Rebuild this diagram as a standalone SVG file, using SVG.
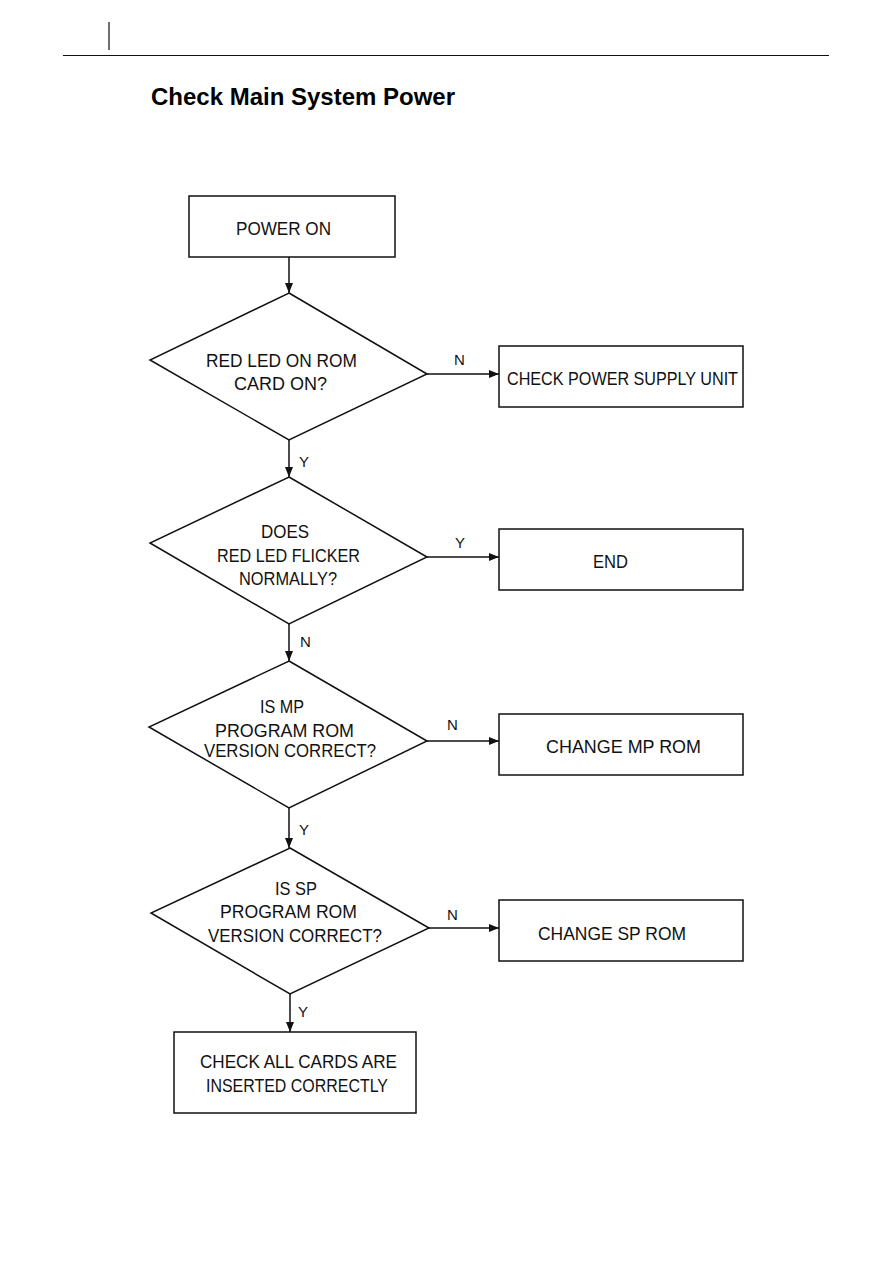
<svg xmlns="http://www.w3.org/2000/svg" width="893" height="1263" viewBox="0 0 893 1263">
<defs>
<style>
.shape{fill:#fff;stroke:#111;stroke-width:1.5}
.conn{fill:none;stroke:#111;stroke-width:1.5}
.t{font-family:"Liberation Sans",Arial,sans-serif;font-size:19px;fill:#111}
.lbl{font-family:"Liberation Sans",Arial,sans-serif;font-size:15px;fill:#111}
.title{font-family:"Liberation Sans",Arial,sans-serif;font-size:23px;font-weight:bold;fill:#000}
</style>
<marker id="ah" viewBox="0 0 10 8" refX="10" refY="4" markerWidth="10" markerHeight="8" markerUnits="userSpaceOnUse" orient="auto">
<path d="M0,0 L10,4 L0,8 Z" fill="#111"/>
</marker>
</defs>
<rect width="893" height="1263" fill="#fff"/>
<g id="header">
<line x1="109" y1="22" x2="109" y2="50" stroke="#111" stroke-width="1.2"/>
<line x1="63" y1="55.5" x2="829" y2="55.5" stroke="#111" stroke-width="1.2"/>
<text class="title" x="151" y="105" textLength="304" lengthAdjust="spacingAndGlyphs">Check Main System Power</text>
</g>
<g id="connectors">
<line class="conn" x1="289" y1="257" x2="289" y2="293" marker-end="url(#ah)"/>
<line class="conn" x1="427" y1="374" x2="499" y2="374" marker-end="url(#ah)"/>
<line class="conn" x1="289" y1="440" x2="289" y2="477" marker-end="url(#ah)"/>
<line class="conn" x1="427" y1="557" x2="499" y2="557" marker-end="url(#ah)"/>
<line class="conn" x1="289" y1="624" x2="289" y2="661" marker-end="url(#ah)"/>
<line class="conn" x1="427" y1="741" x2="499" y2="741" marker-end="url(#ah)"/>
<line class="conn" x1="289" y1="808" x2="289" y2="848" marker-end="url(#ah)"/>
<line class="conn" x1="429" y1="928" x2="499" y2="928" marker-end="url(#ah)"/>
<line class="conn" x1="290" y1="994" x2="290" y2="1032" marker-end="url(#ah)"/>
<text class="lbl" x="454" y="365">N</text>
<text class="lbl" x="299" y="467">Y</text>
<text class="lbl" x="455" y="548">Y</text>
<text class="lbl" x="300" y="647">N</text>
<text class="lbl" x="447" y="730">N</text>
<text class="lbl" x="299" y="835">Y</text>
<text class="lbl" x="447" y="920">N</text>
<text class="lbl" x="298" y="1017">Y</text>
</g>
<g id="power-on">
<rect class="shape" x="189" y="196" width="206" height="61"/>
<text class="t" x="236" y="235" textLength="95" lengthAdjust="spacingAndGlyphs">POWER ON</text>
</g>
<g id="red-led-on">
<polygon class="shape" points="289,293 427,374 289,440 150,360"/>
<text class="t" x="206" y="367" textLength="151" lengthAdjust="spacingAndGlyphs">RED LED ON ROM</text>
<text class="t" x="234" y="390" textLength="93" lengthAdjust="spacingAndGlyphs">CARD ON?</text>
</g>
<g id="check-psu">
<rect class="shape" x="499" y="346" width="244" height="61"/>
<text class="t" x="507" y="385" textLength="231" lengthAdjust="spacingAndGlyphs">CHECK POWER SUPPLY UNIT</text>
</g>
<g id="led-flicker">
<polygon class="shape" points="289,477 427,557 289,624 150,543"/>
<text class="t" x="261" y="538" textLength="48" lengthAdjust="spacingAndGlyphs">DOES</text>
<text class="t" x="217" y="562" textLength="143" lengthAdjust="spacingAndGlyphs">RED LED FLICKER</text>
<text class="t" x="239" y="585" textLength="98" lengthAdjust="spacingAndGlyphs">NORMALLY?</text>
</g>
<g id="end">
<rect class="shape" x="499" y="529" width="244" height="61"/>
<text class="t" x="593" y="568" textLength="35" lengthAdjust="spacingAndGlyphs">END</text>
</g>
<g id="mp-rom-check">
<polygon class="shape" points="289,661 427,741 289,808 149,727"/>
<text class="t" x="260" y="713" textLength="44" lengthAdjust="spacingAndGlyphs">IS MP</text>
<text class="t" x="215" y="737" textLength="139" lengthAdjust="spacingAndGlyphs">PROGRAM ROM</text>
<text class="t" x="204" y="757" textLength="172" lengthAdjust="spacingAndGlyphs">VERSION CORRECT?</text>
</g>
<g id="change-mp-rom">
<rect class="shape" x="499" y="714" width="244" height="61"/>
<text class="t" x="546" y="753" textLength="155" lengthAdjust="spacingAndGlyphs">CHANGE MP ROM</text>
</g>
<g id="sp-rom-check">
<polygon class="shape" points="290,848 429,928 290,994 151,913"/>
<text class="t" x="275" y="895" textLength="42" lengthAdjust="spacingAndGlyphs">IS SP</text>
<text class="t" x="220" y="918" textLength="137" lengthAdjust="spacingAndGlyphs">PROGRAM ROM</text>
<text class="t" x="208" y="942" textLength="174" lengthAdjust="spacingAndGlyphs">VERSION CORRECT?</text>
</g>
<g id="change-sp-rom">
<rect class="shape" x="499" y="900" width="244" height="61"/>
<text class="t" x="538" y="940" textLength="148" lengthAdjust="spacingAndGlyphs">CHANGE SP ROM</text>
</g>
<g id="check-cards">
<rect class="shape" x="174" y="1032" width="242" height="81"/>
<text class="t" x="200" y="1068" textLength="197" lengthAdjust="spacingAndGlyphs">CHECK ALL CARDS ARE</text>
<text class="t" x="206" y="1092" textLength="182" lengthAdjust="spacingAndGlyphs">INSERTED CORRECTLY</text>
</g>
</svg>
